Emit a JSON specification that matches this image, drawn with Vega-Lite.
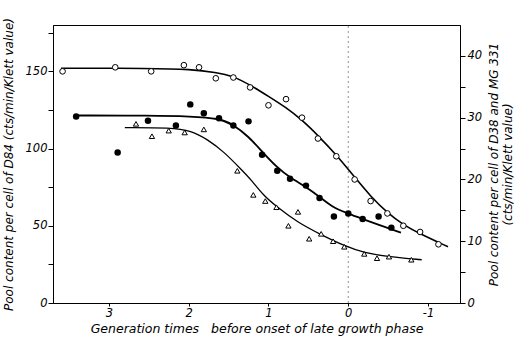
{
  "$schema": "https://vega.github.io/schema/vega-lite/v6.json",
  "width": 407,
  "height": 278,
  "autosize": {"type": "none"},
  "padding": {"left": 53, "top": 25, "right": 60, "bottom": 34},
  "background": "white",
  "config": {
    "view": {"stroke": "black", "strokeWidth": 1},
    "axis": {
      "domainColor": "black", "tickColor": "black", "labelColor": "black", "titleColor": "black",
      "labelFont": "DejaVu Sans", "titleFont": "DejaVu Sans",
      "labelFontStyle": "italic", "titleFontStyle": "italic",
      "labelFontSize": 11.5, "titleFontSize": 12, "titleFontWeight": "normal",
      "grid": false
    }
  },
  "datasets": {
    "points": [
      {"series": "D84", "x": 3.58, "y": 150},
      {"series": "D84", "x": 2.92, "y": 152.6},
      {"series": "D84", "x": 2.47, "y": 150},
      {"series": "D84", "x": 2.06, "y": 154},
      {"series": "D84", "x": 1.87, "y": 152.6},
      {"series": "D84", "x": 1.66, "y": 145.5},
      {"series": "D84", "x": 1.44, "y": 146},
      {"series": "D84", "x": 1.23, "y": 139.6},
      {"series": "D84", "x": 1.0, "y": 128},
      {"series": "D84", "x": 0.78, "y": 132},
      {"series": "D84", "x": 0.58, "y": 120},
      {"series": "D84", "x": 0.38, "y": 106.5},
      {"series": "D84", "x": 0.15, "y": 95},
      {"series": "D84", "x": -0.08, "y": 80},
      {"series": "D84", "x": -0.28, "y": 66},
      {"series": "D84", "x": -0.49, "y": 58},
      {"series": "D84", "x": -0.69, "y": 50},
      {"series": "D84", "x": -0.9, "y": 46},
      {"series": "D84", "x": -1.13, "y": 38},
      {"series": "D38", "x": 3.41, "y": 30.2},
      {"series": "D38", "x": 2.89, "y": 24.35},
      {"series": "D38", "x": 2.51, "y": 29.5},
      {"series": "D38", "x": 2.16, "y": 28.75},
      {"series": "D38", "x": 1.98, "y": 32.15},
      {"series": "D38", "x": 1.81, "y": 30.7},
      {"series": "D38", "x": 1.62, "y": 29.9},
      {"series": "D38", "x": 1.44, "y": 28.75},
      {"series": "D38", "x": 1.25, "y": 29.4},
      {"series": "D38", "x": 1.08, "y": 24},
      {"series": "D38", "x": 0.89, "y": 21.4},
      {"series": "D38", "x": 0.73, "y": 20.1},
      {"series": "D38", "x": 0.53, "y": 19},
      {"series": "D38", "x": 0.36, "y": 17},
      {"series": "D38", "x": 0.18, "y": 14},
      {"series": "D38", "x": 0.0, "y": 14.5},
      {"series": "D38", "x": -0.18, "y": 13.6},
      {"series": "D38", "x": -0.38, "y": 14},
      {"series": "D38", "x": -0.54, "y": 12.2},
      {"series": "MG331", "x": 2.66, "y": 29},
      {"series": "MG331", "x": 2.46, "y": 27},
      {"series": "MG331", "x": 2.25, "y": 27.9},
      {"series": "MG331", "x": 2.05, "y": 27.6},
      {"series": "MG331", "x": 1.81, "y": 28.1},
      {"series": "MG331", "x": 1.39, "y": 21.4},
      {"series": "MG331", "x": 1.19, "y": 17.5},
      {"series": "MG331", "x": 1.04, "y": 16.5},
      {"series": "MG331", "x": 0.9, "y": 15.5},
      {"series": "MG331", "x": 0.63, "y": 14.75},
      {"series": "MG331", "x": 0.75, "y": 12.5},
      {"series": "MG331", "x": 0.49, "y": 10.4},
      {"series": "MG331", "x": 0.34, "y": 11.2},
      {"series": "MG331", "x": 0.19, "y": 10},
      {"series": "MG331", "x": 0.05, "y": 9.1},
      {"series": "MG331", "x": -0.2, "y": 7.95},
      {"series": "MG331", "x": -0.36, "y": 7.25},
      {"series": "MG331", "x": -0.51, "y": 7.5},
      {"series": "MG331", "x": -0.79, "y": 7}
    ],
    "curves": [
      {"series": "D84", "x": 3.6, "y": 152},
      {"series": "D84", "x": 2.47, "y": 152},
      {"series": "D84", "x": 1.97, "y": 151.3},
      {"series": "D84", "x": 1.66, "y": 149.4},
      {"series": "D84", "x": 1.44, "y": 146.8},
      {"series": "D84", "x": 1.22, "y": 140.9},
      {"series": "D84", "x": 1.0, "y": 133.8},
      {"series": "D84", "x": 0.78, "y": 126.6},
      {"series": "D84", "x": 0.58, "y": 118.5},
      {"series": "D84", "x": 0.38, "y": 108.5},
      {"series": "D84", "x": 0.15, "y": 96},
      {"series": "D84", "x": -0.08, "y": 81.5},
      {"series": "D84", "x": -0.28, "y": 69},
      {"series": "D84", "x": -0.49, "y": 58.4},
      {"series": "D84", "x": -0.69, "y": 50.6},
      {"series": "D84", "x": -0.9, "y": 44.8},
      {"series": "D84", "x": -1.25, "y": 36.4},
      {"series": "D38", "x": 3.41, "y": 30.35},
      {"series": "D38", "x": 2.47, "y": 30.35},
      {"series": "D38", "x": 1.97, "y": 30.2},
      {"series": "D38", "x": 1.62, "y": 29.9},
      {"series": "D38", "x": 1.44, "y": 28.9},
      {"series": "D38", "x": 1.25, "y": 26.95},
      {"series": "D38", "x": 1.08, "y": 24.5},
      {"series": "D38", "x": 0.89, "y": 21.9},
      {"series": "D38", "x": 0.73, "y": 20.3},
      {"series": "D38", "x": 0.53, "y": 18.8},
      {"series": "D38", "x": 0.36, "y": 17.2},
      {"series": "D38", "x": 0.21, "y": 15.6},
      {"series": "D38", "x": 0.0, "y": 14.45},
      {"series": "D38", "x": -0.18, "y": 13.6},
      {"series": "D38", "x": -0.38, "y": 12.65},
      {"series": "D38", "x": -0.66, "y": 11.4},
      {"series": "MG331", "x": 2.8, "y": 28.4},
      {"series": "MG331", "x": 2.22, "y": 28.4},
      {"series": "MG331", "x": 1.97, "y": 27.9},
      {"series": "MG331", "x": 1.76, "y": 26.45},
      {"series": "MG331", "x": 1.56, "y": 24.5},
      {"series": "MG331", "x": 1.34, "y": 21.6},
      {"series": "MG331", "x": 1.22, "y": 20},
      {"series": "MG331", "x": 1.07, "y": 17.5},
      {"series": "MG331", "x": 0.9, "y": 15.6},
      {"series": "MG331", "x": 0.63, "y": 13},
      {"series": "MG331", "x": 0.34, "y": 11.05},
      {"series": "MG331", "x": 0.05, "y": 9.25},
      {"series": "MG331", "x": -0.2, "y": 8.1},
      {"series": "MG331", "x": -0.51, "y": 7.5},
      {"series": "MG331", "x": -0.92, "y": 7}
    ],
    "marker": [{"x": 0}]
  },
  "layer": [
    {
      "layer": [
        {
          "data": {"name": "marker"},
          "mark": {"type": "rule", "color": "#777", "strokeWidth": 0.8, "strokeDash": [2, 3]},
          "encoding": {
            "x": {"field": "x", "type": "quantitative"},
            "y": {"datum": 0, "type": "quantitative"},
            "y2": {"datum": 180}
          }
        },
        {
          "data": {"name": "curves"},
          "transform": [{"filter": "datum.series === 'D84'"}],
          "mark": {"type": "line", "color": "black", "strokeWidth": 1.6, "interpolate": "basis"},
          "encoding": {
            "x": {"field": "x", "type": "quantitative"},
            "y": {"field": "y", "type": "quantitative"}
          }
        },
        {
          "data": {"name": "points"},
          "transform": [{"filter": "datum.series === 'D84'"}],
          "mark": {"type": "point", "shape": "circle", "size": 32, "color": "black", "fill": "white", "filled": false, "strokeWidth": 1, "opacity": 1},
          "encoding": {
            "x": {"field": "x", "type": "quantitative"},
            "y": {"field": "y", "type": "quantitative"}
          }
        }
      ],
      "encoding": {
        "x": {
          "field": "x", "type": "quantitative",
          "scale": {"domain": [-1.4, 3.7], "reverse": true, "nice": false, "zero": false},
          "axis": {
            "values": [3, 2, 1, 0, -1],
            "labelExpr": "'' + datum.value",
            "title": "Generation times\u00a0\u00a0\u00a0before onset of late growth phase",
            "titleFontSize": 12.5,
            "tickSize": 3, "labelPadding": 1, "titlePadding": 4
          }
        },
        "y": {
          "type": "quantitative",
          "scale": {"domain": [0, 180], "nice": false, "zero": true},
          "axis": {
            "orient": "left",
            "values": [0, 25, 50, 75, 100, 125, 150, 175],
            "labelExpr": "datum.value % 50 === 0 ? datum.label : ''",
            "title": "Pool content per cell of D84 (cts/min/Klett value)",
            "titleFontSize": 12,
            "tickSize": 5, "labelPadding": 1, "titlePadding": 10
          }
        }
      }
    },
    {
      "encoding": {
        "x": {"field": "x", "type": "quantitative"},
        "y": {
          "field": "y", "type": "quantitative",
          "scale": {"domain": [0, 45], "nice": false, "zero": true},
          "axis": {
            "orient": "right",
            "values": [0, 5, 10, 15, 20, 25, 30, 35, 40],
            "labelExpr": "datum.value % 10 === 0 ? datum.label : ''",
            "title": ["Pool content per cell of D38 and MG 331", "(cts/min/Klett value)"],
            "titleAngle": -90, "titleBaseline": "bottom",
            "tickSize": 5, "labelPadding": 2, "titlePadding": 5
          }
        }
      },
      "layer": [
        {
          "data": {"name": "curves"},
          "transform": [{"filter": "datum.series === 'D38'"}],
          "mark": {"type": "line", "color": "black", "strokeWidth": 1.8, "interpolate": "basis"}
        },
        {
          "data": {"name": "curves"},
          "transform": [{"filter": "datum.series === 'MG331'"}],
          "mark": {"type": "line", "color": "black", "strokeWidth": 1.3, "interpolate": "basis"}
        },
        {
          "data": {"name": "points"},
          "transform": [{"filter": "datum.series === 'D38'"}],
          "mark": {"type": "point", "shape": "circle", "size": 42, "color": "black", "filled": true, "opacity": 1}
        },
        {
          "data": {"name": "points"},
          "transform": [{"filter": "datum.series === 'MG331'"}],
          "mark": {"type": "point", "shape": "triangle-up", "size": 28, "color": "black", "fill": "white", "filled": false, "strokeWidth": 1, "opacity": 1}
        }
      ]
    }
  ],
  "resolve": {"scale": {"y": "independent"}}
}
